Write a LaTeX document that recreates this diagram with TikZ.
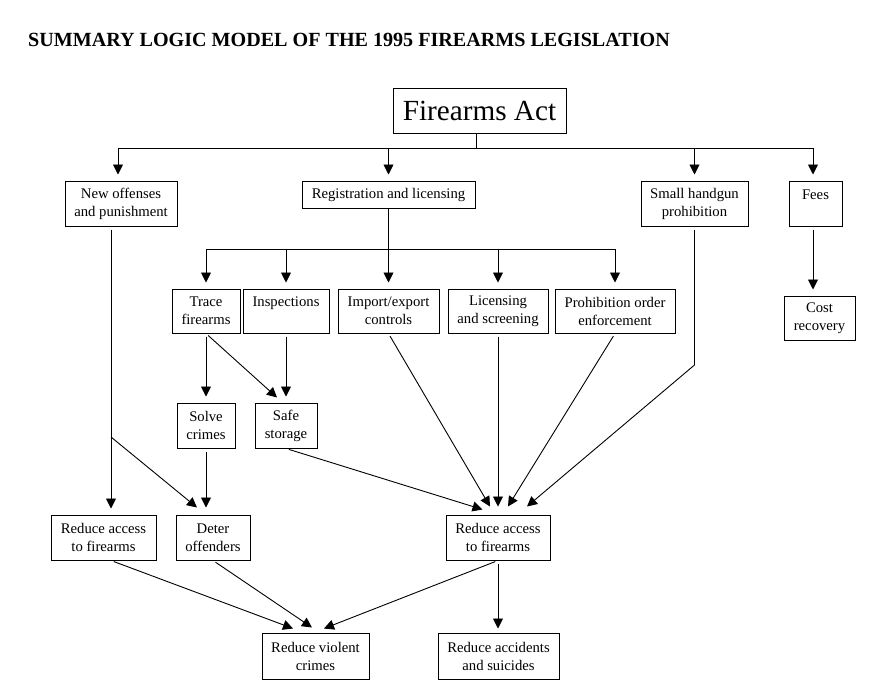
\documentclass[tikz,border=0pt]{standalone}
\usepackage{fontspec}
\setmainfont{Liberation Serif}
\usetikzlibrary{arrows.meta,calc}
\tikzset{
  box/.style={draw, line width=1pt, align=center, inner sep=0pt, font=\fontsize{14.7}{18}\selectfont},
  arr/.style={line width=0.9pt, -{Triangle[length=10pt,width=10pt]}, shorten <=3pt},
  ln/.style={line width=0.9pt},
}
\begin{document}
\begin{tikzpicture}[x=1pt,y=-1pt]
\useasboundingbox (0,0) rectangle (893,685);
\node[anchor=base west, font=\fontsize{20.1}{22}\selectfont\bfseries, inner sep=0pt] (title) at (28,46) {SUMMARY LOGIC MODEL OF THE 1995 FIREARMS LEGISLATION};
% boxes
\node[box, minimum width=173pt, minimum height=45pt, font=\fontsize{29.2}{32}\selectfont] (fa) at (479.5,110.5) {Firearms Act};
\node[box, minimum width=112pt, minimum height=45pt] (no) at (121,203.5) {New offenses\\and punishment};
\node[box, minimum width=173pt, minimum height=27pt] (reg) at (388.5,194.5) {Registration and licensing};
\node[box, minimum width=107pt, minimum height=45pt] (sh) at (694.5,203.5) {Small handgun\\prohibition};
\node[box, minimum width=53pt, minimum height=45pt] (fees) at (815.5,203.5) {Fees\\\mbox{}};
\node[box, minimum width=71pt, minimum height=44pt] (cost) at (819.5,318) {Cost\\recovery};
\node[box, minimum width=68pt, minimum height=44pt] (trace) at (206,311) {Trace\\firearms};
\node[box, minimum width=86pt, minimum height=44pt] (insp) at (286,311) {Inspections\\\mbox{}};
\node[box, minimum width=101pt, minimum height=44pt] (imp) at (388.5,311) {Import/export\\controls};
\node[box, minimum width=100pt, minimum height=44pt] (lic) at (498,311) {Licensing\\and screening};
\node[box, minimum width=120pt, minimum height=44pt] (pro) at (615,311) {Prohibition order\\enforcement};
\node[box, minimum width=58pt, minimum height=45pt] (solve) at (206,425.5) {Solve\\crimes};
\node[box, minimum width=62pt, minimum height=45pt] (safe) at (286,425.5) {Safe\\storage};
\node[box, minimum width=105pt, minimum height=45pt] (raL) at (103.5,537.5) {Reduce access\\to firearms};
\node[box, minimum width=74pt, minimum height=45pt] (det) at (213,537.5) {Deter\\offenders};
\node[box, minimum width=104pt, minimum height=45pt] (raR) at (498,537.5) {Reduce access\\to firearms};
\node[box, minimum width=107pt, minimum height=46pt] (vio) at (315.5,656) {Reduce violent\\crimes};
\node[box, minimum width=121pt, minimum height=46pt] (acc) at (498.5,656) {Reduce accidents\\and suicides};
% top bus
\coordinate (b1) at (476,148);
\coordinate (b1L) at (118,148);
\coordinate (b1R) at (813,148);
\draw[ln] (fa.south -| b1) -- (b1);
\draw[ln] (b1L) -- (b1R);
\draw[arr, shorten <=0pt, shorten >=6pt] (b1L) -- (b1L |- no.north);
\draw[arr, shorten <=0pt, shorten >=6pt] (b1 -| reg.north) -- (reg.north);
\draw[arr, shorten <=0pt, shorten >=6pt] (b1 -| sh.north) -- (sh.north);
\draw[arr, shorten <=0pt, shorten >=6pt] (b1R) -- (b1R |- fees.north);
% second bus
\coordinate (b2L) at (206,249);
\coordinate (b2R) at (615,249);
\draw[ln] (reg.south) -- (reg.south |- b2L);
\draw[ln] (b2L) -- (b2R);
\foreach \n in {trace,insp,imp,lic,pro}
  \draw[arr, shorten <=0pt, shorten >=6pt] (b2L -| \n.north) -- (\n.north);
% fees -> cost
\draw[arr, shorten >=6pt] (fees.south -| b1R) -- (cost.north -| b1R);
% trace / inspections
\draw[arr, shorten >=6pt] (trace.south) -- (solve.north);
\draw[arr] (trace.south) -- ($(safe.north)+(-9,-5)$);
\draw[arr, shorten >=6pt] (insp.south) -- (safe.north);
% new offenses
\coordinate (nx) at (111,0);
\coordinate (br) at (111,437);
\draw[arr, shorten >=6pt] (no.south -| nx) -- (raL.north -| nx);
\draw[arr, shorten <=0pt] (br) -- ($(det.north)+(-16,-7)$);
\draw[arr] (solve.south) -- ($(det.north)+(-7,-7)$);
% into right reduce access
\draw[arr] (safe.south) -- ($(raR.north)+(-15.5,-5)$);
\draw[arr] (imp.south) -- ($(raR.north)+(-8,-8)$);
\draw[arr, shorten >=8pt] (lic.south) -- (raR.north);
\draw[arr] (pro.south) -- ($(raR.north)+(10,-8)$);
\coordinate (shb) at (694.5,365);
\draw[ln, shorten <=3pt, line join=round] (sh.south) -- (shb);
\draw[arr, shorten <=0pt] (shb) -- ($(raR.north)+(29,-8)$);
% bottom
\draw[arr] ($(raL.south)+(7.5,0)$) -- ($(vio.north)+(-22.5,-4)$);
\draw[arr] (det.south) -- ($(vio.north)+(-3.5,-5)$);
\draw[arr] (raR.south) -- ($(vio.north)+(8.5,-4)$);
\draw[arr, shorten >=4pt] (raR.south) -- (raR.south |- acc.north);
\end{tikzpicture}
\end{document}
